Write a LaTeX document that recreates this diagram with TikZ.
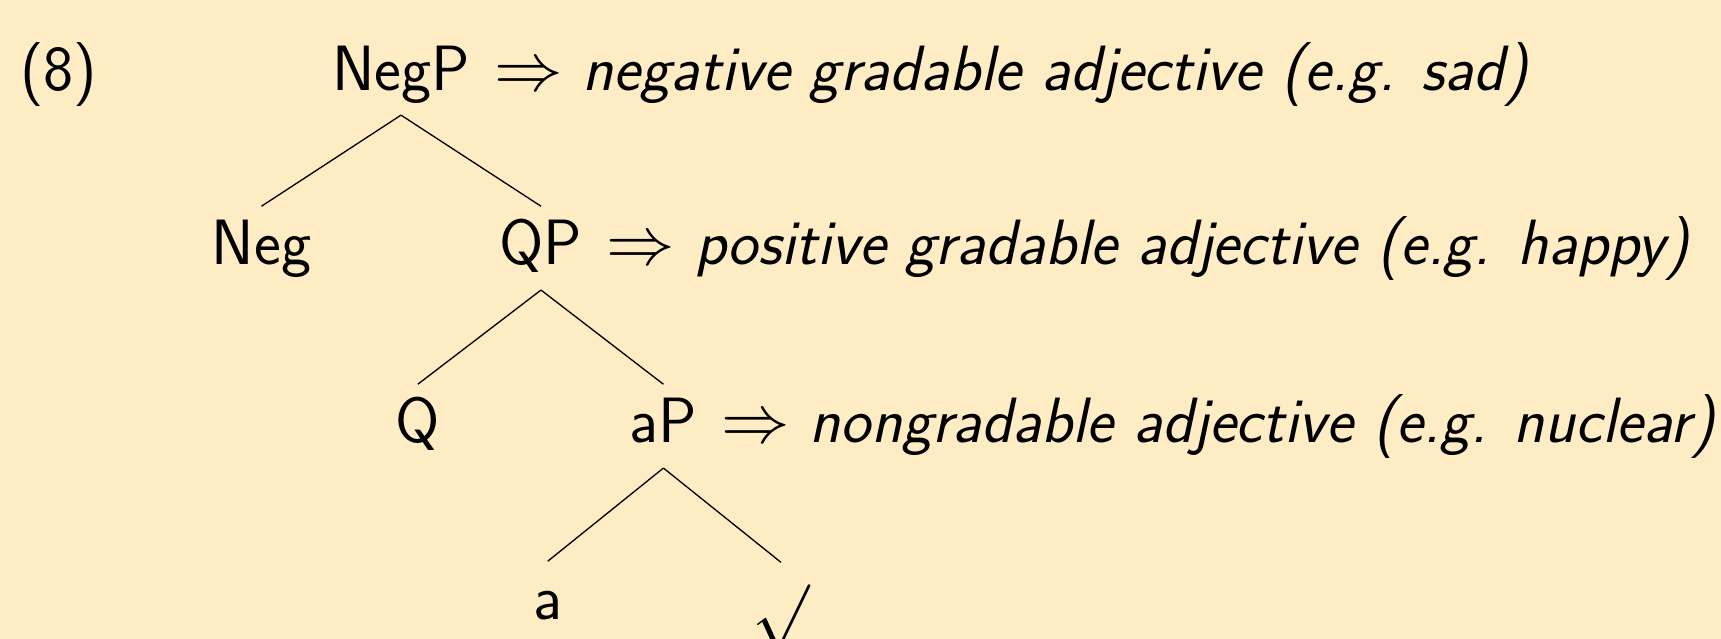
\documentclass[tikz,border=0pt]{standalone}
\usepackage{xcolor}
\usepackage{tikz}
\usetikzlibrary{positioning}
\definecolor{slidecream}{HTML}{FEEDC4}

\begin{document}
\begin{tikzpicture}[font=\fontsize{19.4}{23}\selectfont\sffamily,
    cat/.style={inner sep=0pt, anchor=base, text height=17.6pt, text depth=7.4pt},
    note/.style={inner sep=0pt, text height=17.6pt, text depth=7.4pt},
    root/.style={inner sep=0pt, anchor=base, text height=22.3pt}]
  \fill[slidecream] (0,0) rectangle (18.33,-6.805);
  \useasboundingbox (0,0) rectangle (18.33,-6.805);
  % example number
  \node[cat, anchor=base west] (ex) at (0.21,-0.959) {(8)};
  % the tree
  \node[cat] (negp) at (4.271,-0.959) {NegP};
  \node[cat] (neg) at (2.785,-2.822) {Neg};
  \node[cat] (qp) at (5.762,-2.822) {QP};
  \node[cat] (q) at (4.450,-4.718) {Q};
  \node[cat] (ap) at (7.066,-4.718) {aP};
  \node[cat] (a) at (5.834,-6.603) {a};
  \node[root] (sqrt) at (8.318,-6.780) {$\surd$};
  % what each phrase spells out
  \node[note, right=7pt of negp] (negpnote) {$\Rightarrow$\ \textsl{negative gradable adjective (e.g. sad)}};
  \node[note, right=7pt of qp] (qpnote) {$\Rightarrow$\ \textsl{positive gradable adjective (e.g. happy)}};
  \node[note, right=7pt of ap] (apnote) {$\Rightarrow$\ \textsl{nongradable adjective (e.g. nuclear)}};
  \draw (negp.south) -- (neg.north);
  \draw (negp.south) -- (qp.north);
  \draw (qp.south) -- (q.north);
  \draw (qp.south) -- (ap.north);
  \draw (ap.south) -- (a.north);
  \draw (ap.south) -- (sqrt.north);
\end{tikzpicture}
\end{document}
